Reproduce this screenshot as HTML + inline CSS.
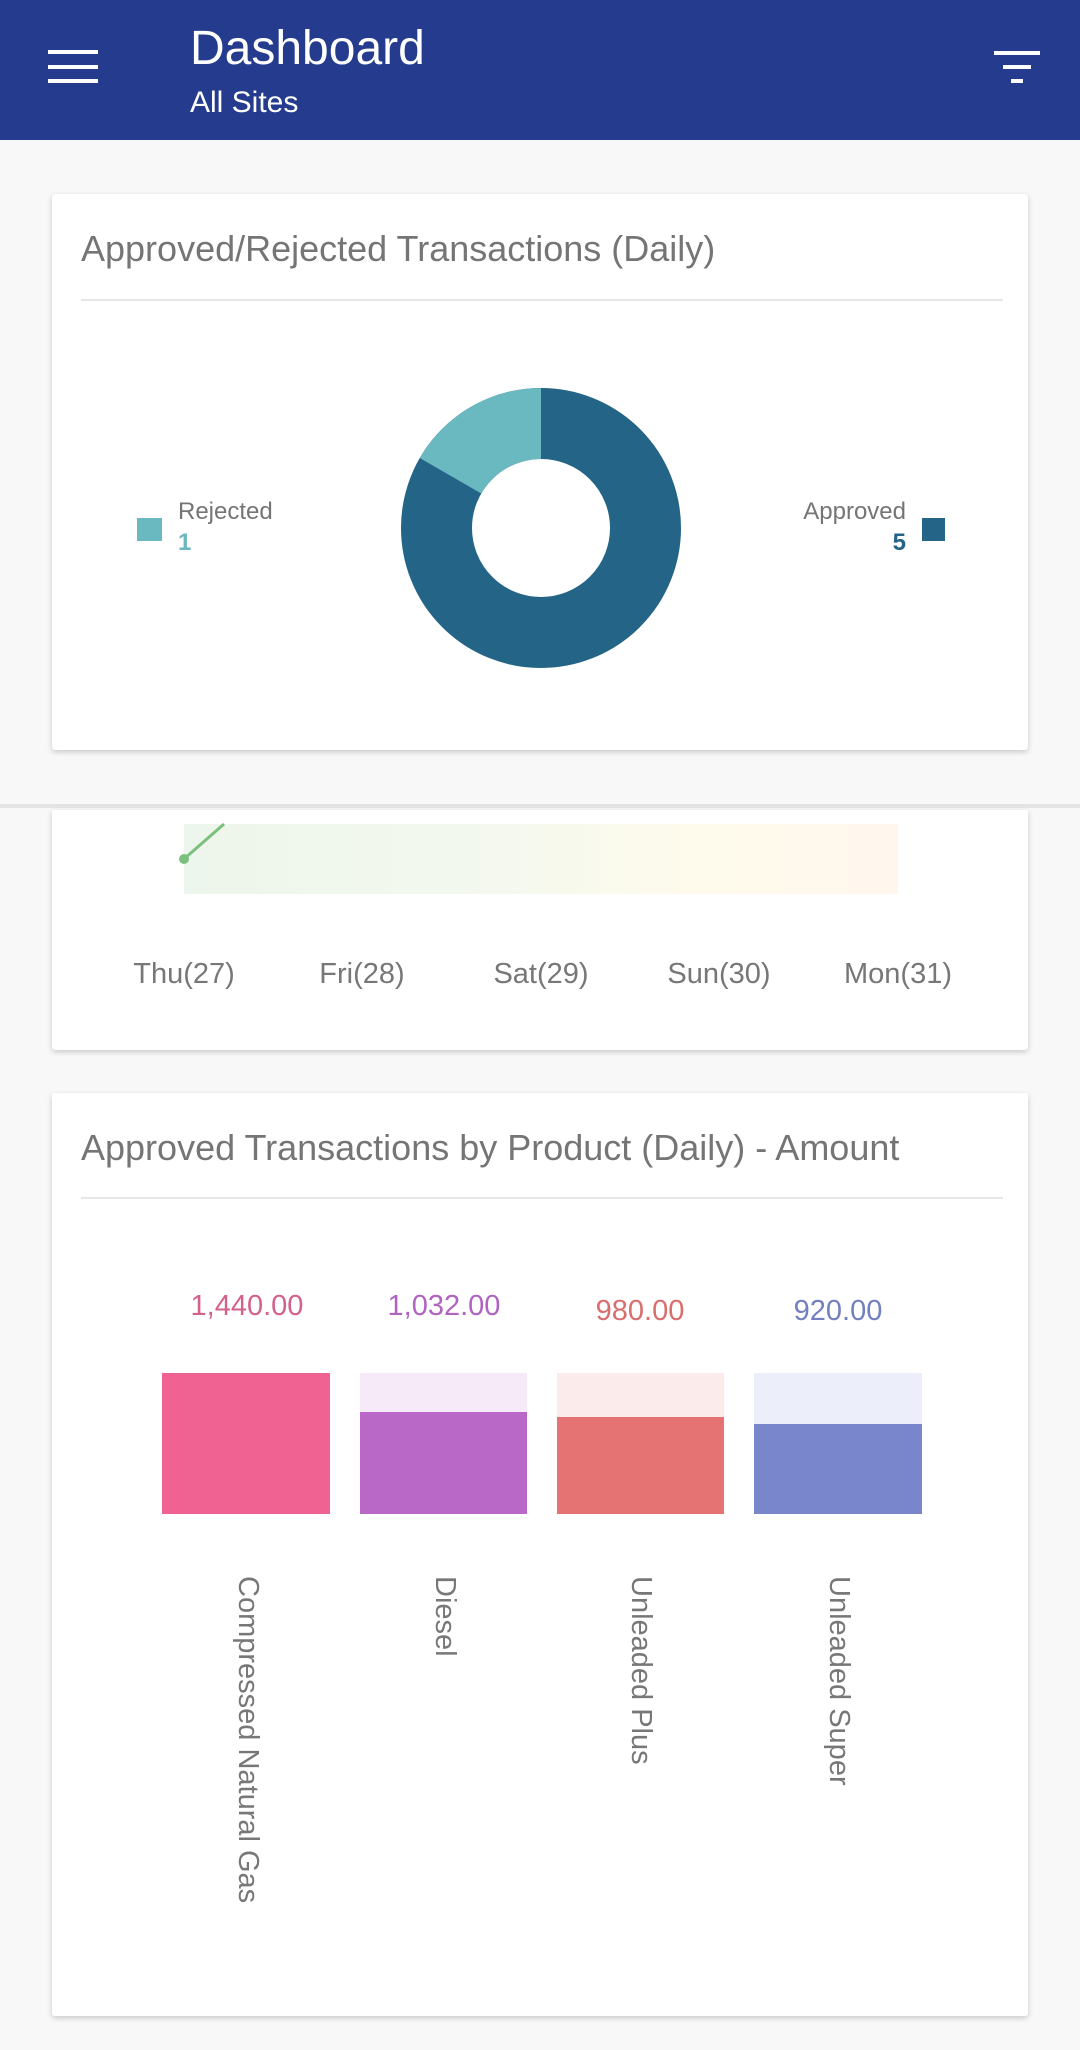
<!DOCTYPE html>
<html><head><meta charset="utf-8"><style>
body{margin:0;width:1080px;height:2050px;background:#f8f8f8;font-family:"Liberation Sans",sans-serif;position:relative;overflow:hidden}
.a{position:absolute}
.card{position:absolute;background:#fff;left:52px;width:976px;box-shadow:0 2px 6px rgba(0,0,0,.2);border-radius:3px}
.t{position:absolute;left:29px;font-size:36px;color:#757575;white-space:nowrap}
.hr{position:absolute;left:29px;right:25px;height:2px;background:#e6e6e6}
.lab{position:absolute;font-size:29px;color:#777;transform:translateX(-50%);white-space:nowrap}
.rot{position:absolute;font-size:29px;color:#777;white-space:nowrap;transform-origin:0 0;transform:rotate(90deg)}
</style></head><body>
<div class="a" style="left:0;top:0;width:1080px;height:140px;background:#243b8e"></div>
<div class="a" style="left:48px;top:50px;width:50px;height:4px;background:#fff"></div>
<div class="a" style="left:48px;top:65px;width:50px;height:4px;background:#fff"></div>
<div class="a" style="left:48px;top:79px;width:50px;height:4px;background:#fff"></div>
<div class="a" style="left:190px;top:21px;font-size:48px;color:#fff">Dashboard</div>
<div class="a" style="left:190px;top:86px;font-size:30px;color:#fff">All Sites</div>
<div class="a" style="left:994px;top:51px;width:46px;height:4px;background:#fff"></div>
<div class="a" style="left:1003px;top:65px;width:28px;height:4px;background:#fff"></div>
<div class="a" style="left:1011px;top:79px;width:12px;height:4px;background:#fff"></div>

<div class="card" style="top:194px;height:556px">
<div class="t" style="top:34px">Approved/Rejected Transactions (Daily)</div>
<div class="hr" style="top:105px"></div>
<div class="a" style="left:85px;top:324px;width:25px;height:23px;background:#6ab8c0"></div>
<div class="a" style="left:126px;top:304px;font-size:24px;color:#757575">Rejected</div>
<div class="a" style="left:126px;top:335px;font-size:24px;color:#6ab8c0;font-weight:bold">1</div>
<div class="a" style="left:870px;top:324px;width:23px;height:23px;background:#246487"></div>
<div class="a" style="right:122px;top:304px;font-size:24px;color:#757575">Approved</div>
<div class="a" style="right:122px;top:335px;font-size:24px;color:#246487;font-weight:bold">5</div>
<svg class="a" style="left:0;top:0" width="976" height="556">
<circle cx="489" cy="334" r="104.5" fill="none" stroke="#246487" stroke-width="71"/>
<path d="M489 194 A140 140 0 0 0 367.8 264 L429.2 299.5 A69 69 0 0 1 489 265 Z" fill="#6ab8c0"/>
</svg>
</div>

<div class="a" style="left:0;top:804px;width:1080px;height:4px;background:#e4e4e4"></div>
<div class="card" style="top:810px;height:240px;border-radius:0 0 3px 3px">
<div class="a" style="left:132px;top:14px;width:714px;height:70px;background:linear-gradient(90deg,#edf6ec,#f3f8ee 40%,#fffbec 75%,#fff6ee)"></div>
<svg class="a" style="left:0;top:0" width="976" height="240"><line x1="132" y1="49" x2="172" y2="14" stroke="#7cc07e" stroke-width="3"/><circle cx="132" cy="49" r="5" fill="#7cc07e"/></svg>
<div class="lab" style="left:132px;top:148px">Thu(27)</div>
<div class="lab" style="left:310px;top:148px">Fri(28)</div>
<div class="lab" style="left:489px;top:148px">Sat(29)</div>
<div class="lab" style="left:667px;top:148px">Sun(30)</div>
<div class="lab" style="left:846px;top:148px">Mon(31)</div>
</div>

<div class="card" style="top:1093px;height:923px">
<div class="t" style="top:34px">Approved Transactions by Product (Daily) - Amount</div>
<div class="hr" style="top:104px"></div>
</div>
<div class="a" style="left:162px;top:1373px;width:168px;height:141px;background:#f06292"></div>
<div class="a" style="left:360px;top:1373px;width:167px;height:141px;background:#f6e9f8"></div>
<div class="a" style="left:360px;top:1412px;width:167px;height:102px;background:#ba68c8"></div>
<div class="a" style="left:557px;top:1373px;width:167px;height:141px;background:#fcebeb"></div>
<div class="a" style="left:557px;top:1417px;width:167px;height:97px;background:#e57373"></div>
<div class="a" style="left:754px;top:1373px;width:168px;height:141px;background:#eceff9"></div>
<div class="a" style="left:754px;top:1424px;width:168px;height:90px;background:#7986cb"></div>
<div class="lab" style="left:247px;top:1290px;color:#d4608c">1,440.00</div>
<div class="lab" style="left:444px;top:1290px;color:#b064c0">1,032.00</div>
<div class="lab" style="left:640px;top:1295px;color:#d86e6e">980.00</div>
<div class="lab" style="left:838px;top:1295px;color:#7380bf">920.00</div>
<div class="rot" style="left:264px;top:1576px">Compressed Natural Gas</div>
<div class="rot" style="left:461px;top:1576px">Diesel</div>
<div class="rot" style="left:657px;top:1576px">Unleaded Plus</div>
<div class="rot" style="left:855px;top:1576px">Unleaded Super</div>
</body></html>
